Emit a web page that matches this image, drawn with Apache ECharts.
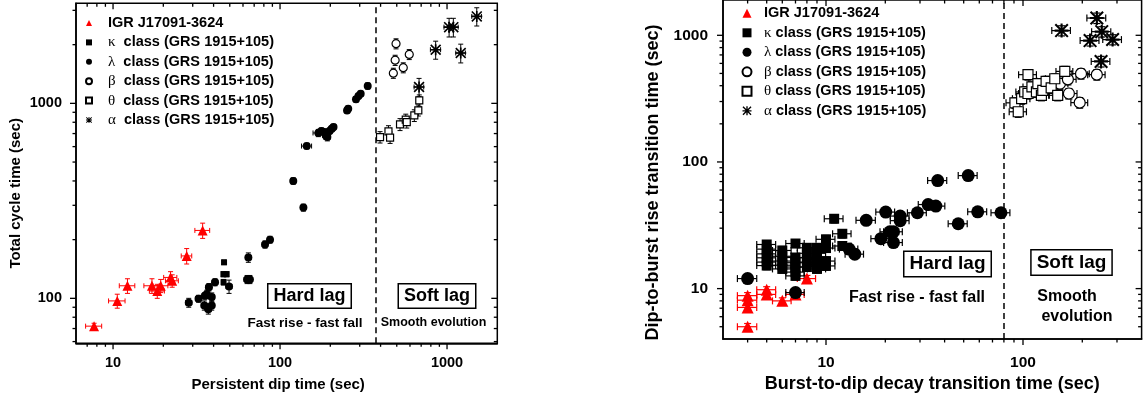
<!DOCTYPE html>
<html>
<head>
<meta charset="utf-8">
<script src="https://cdn.jsdelivr.net/npm/echarts@6/dist/echarts.min.js"></script>
<style>
  html, body { margin: 0; padding: 0; background: #fff; }
  #chart { width: 1146px; height: 402px; }
</style>
</head>
<body>
<div id="chart"></div>
<script>
var names = ['IGR J17091-3624', 'κ class (GRS 1915+105)', 'λ class (GRS 1915+105)',
             'β class (GRS 1915+105)', 'θ class (GRS 1915+105)', 'α class (GRS 1915+105)'];

// left panel: persistent dip time vs total cycle time, [x, y, xerr, yerr]
var igrL = [[7.7, 72, 0.85, 2.5], [10.6, 97, 1.2, 8], [12.2, 116, 1.3, 10], [17.1, 116, 1.8, 10],
  [18.4, 109, 1.9, 9], [19.3, 116, 2.0, 9], [22.1, 128, 2.0, 9], [22.6, 123, 2.0, 9],
  [27.6, 165, 2.0, 15], [34.4, 223, 3.5, 20]];
var kappaL = [[46.2, 153, 1.0, 4], [45.8, 133, 1.0, 4], [47.9, 133, 1.0, 4], [45.9, 121, 1.0, 4]];
var lambdaL = [[28.4, 95, 1.2, 5], [32.5, 99.6, 1.3, 4], [35.5, 103, 1.4, 4], [35.2, 92, 1.4, 5],
  [36.4, 105, 1.4, 5], [37.2, 88, 1.5, 5], [37.5, 114, 1.5, 5], [39, 101.6, 1.5, 5], [39, 92, 1.5, 5],
  [40.8, 121, 1.6, 5], [49.5, 115, 2.0, 9], [63.5, 125, 2.5, 6], [66, 125, 2.5, 6], [64.6, 162, 2.5, 9],
  [81.3, 189, 3, 8], [87.1, 200, 3, 8], [120, 400, 4, 15], [138, 292, 4, 12], [144.5, 604, 10, 20],
  [169.6, 705, 12, 30], [177, 722, 8, 25], [183, 714, 8, 25], [188, 685, 8, 30], [192, 672, 8, 30],
  [198, 722, 8, 25], [204, 741, 8, 25], [209, 756, 8, 25], [252, 920, 8, 30], [256, 938, 8, 30],
  [285, 1049, 9, 35], [295, 1090, 9, 35], [304, 1120, 9, 35], [335, 1228, 9, 45]];
var betaL = [[495, 2023, 10, 120], [489, 1665, 10, 100], [547, 1524, 10, 90], [477, 1429, 10, 85],
  [594, 1782, 10, 105]];
var thetaL = [[397, 671, 10, 45], [446, 718, 10, 50], [456, 668, 10, 45], [523, 780, 10, 55],
  [566, 825, 10, 55], [574, 802, 10, 55], [637, 867, 10, 60], [673, 921, 10, 60], [682, 1035, 10, 70]];
var alphaL = [[680, 1213, 45, 130], [855, 1884, 60, 200], [1029, 2460, 70, 270], [1091, 2460, 75, 270],
  [1208, 1812, 80, 200], [1507, 2793, 100, 300]];

// right panel: burst-to-dip decay vs dip-to-burst rise, [x, y, xerr, yerr]
var igrR = [[4.0, 8.8, 0.45, 0.5], [4.0, 8.1, 0.45, 0.45], [4.0, 7.1, 0.45, 0.4], [4.0, 5.0, 0.45, 0.3],
  [5.0, 9.8, 0.55, 0.55], [5.0, 9.0, 0.55, 0.5], [6.0, 8.0, 0.65, 0.45], [7.0, 9.0, 0.75, 0.5],
  [8.0, 12.0, 0.85, 0.7]];
var kappaR = [[5.0, 22.3, 0.55, 1.6], [5.0, 20.5, 0.55, 1.5], [5.0, 18.8, 0.55, 1.4], [5.0, 17.5, 0.55, 1.3],
  [5.0, 16.2, 0.55, 1.2], [5.0, 15.2, 0.55, 1.1],
  [6.0, 20.0, 0.65, 1.5], [6.0, 18.0, 0.65, 1.3], [6.0, 16.5, 0.65, 1.2], [6.0, 15.3, 0.65, 1.1], [6.0, 14.3, 0.65, 1.0],
  [7.0, 22.7, 0.75, 1.6], [7.0, 17.6, 0.75, 1.3], [7.0, 16.0, 0.75, 1.2], [7.0, 14.8, 0.75, 1.1],
  [7.0, 13.5, 0.75, 1.0], [7.0, 12.6, 0.75, 0.9],
  [8.0, 21.0, 0.85, 1.5], [8.0, 19.0, 0.85, 1.4], [8.0, 17.5, 0.85, 1.3], [8.0, 16.2, 0.85, 1.2], [8.0, 14.8, 0.85, 1.1],
  [9.0, 21.0, 0.95, 1.5], [9.0, 19.0, 0.95, 1.4], [9.0, 17.0, 0.95, 1.2], [9.0, 15.5, 0.95, 1.1], [9.0, 14.3, 0.95, 1.0],
  [10.0, 24.5, 1.1, 1.8], [10.0, 20.9, 1.1, 1.5], [10.0, 16.5, 1.1, 1.2], [10.0, 15.1, 1.1, 1.1],
  [11.0, 35.6, 1.2, 2.6], [12.1, 27.1, 1.3, 2.0], [12.1, 21.7, 1.3, 1.6]];
var lambdaR = [[4.0, 12.0, 0.45, 0.7], [7.0, 9.3, 0.75, 0.5], [13.1, 20.5, 1.4, 1.1], [14.0, 18.7, 1.5, 1.0],
  [16.0, 34.6, 1.8, 1.9], [19.0, 24.8, 2.1, 1.4], [20.1, 40.2, 2.2, 2.2], [21.1, 28.1, 2.3, 1.5],
  [22.0, 28.1, 2.4, 1.5], [22.0, 23.1, 2.4, 1.3], [23.8, 37.4, 2.6, 2.0], [23.8, 34.4, 2.6, 1.9],
  [29.1, 39.7, 3.2, 2.2], [33.0, 46.1, 3.6, 2.5], [36.1, 44.8, 4.0, 2.5], [36.9, 71.3, 4.1, 3.9],
  [46.9, 32.5, 5.2, 1.8], [52.7, 78, 5.8, 4.3], [58.9, 40.4, 6.5, 2.2], [77.3, 39.7, 8.5, 2.2]];
var betaR = [[154, 415, 15, 40], [169, 449, 17, 43], [171, 347, 17, 33], [194, 294, 19, 28],
  [197, 498, 20, 47], [237, 489, 24, 46]];
var thetaR = [[91, 293, 9, 28], [94.6, 249, 9.5, 24], [98.4, 316, 10, 30], [102, 357, 10, 34],
  [106, 489, 11, 46], [106, 347, 11, 33], [111, 391, 11, 37], [117, 357, 12, 34], [119, 415, 12, 39],
  [124, 336, 12, 32], [126, 368, 13, 35], [131, 433, 13, 41], [139, 384, 14, 36], [145, 454, 15, 43],
  [150, 336, 15, 32], [163, 519, 16, 49]];
var alphaR = [[157, 1089, 17, 100], [219, 908, 24, 85], [237, 1368, 26, 130], [249, 622, 27, 60],
  [251, 1069, 28, 100], [285, 925, 31, 85]];

// axis ranges and ticks
var xRangeL = [6, 2000], yRangeL = [58.8, 3260];
var xRangeR = [3, 400], yRangeR = [4, 1900];
var xMajorL = [10, 100, 1000];
var xMinorL = [7, 8, 9, 20, 30, 40, 50, 60, 70, 80, 90, 200, 300, 400, 500, 600, 700, 800, 900];
var yMajorL = [100, 1000];
var yMinorL = [60, 70, 80, 90, 200, 300, 400, 500, 600, 700, 800, 900, 2000, 3000];
var xMajorR = [10, 100];
var xMinorR = [4, 5, 6, 7, 8, 9, 20, 30, 40, 50, 60, 70, 80, 90, 200, 300];
var yMajorR = [10, 100, 1000];
var yMinorR = [5, 6, 7, 8, 9, 20, 30, 40, 50, 60, 70, 80, 90, 200, 300, 400, 500, 600, 700, 800, 900];
var splitL = 375, splitR = 80;

var FONT = '"Liberation Sans", Arial, sans-serif';
var RED = '#ff0000';
var STAR = 'path://M8.5 0h3v20h-3Z M0 8.5h20v3h-20Z M2.1 0L20 17.9L17.9 20L0 2.1Z M17.9 0L20 2.1L2.1 20L0 17.9Z';

function pow10Label(v) {
  var e = Math.log(v) / Math.LN10;
  return Math.abs(e - Math.round(e)) < 1e-6 ? String(Math.round(v)) : '';
}

function errBar(cap, lw, color) {
  return function (params, api) {
    var x = api.value(0), y = api.value(1), xe = api.value(2), ye = api.value(3);
    var l = api.coord([x - xe, y]), r = api.coord([x + xe, y]);
    var t = api.coord([x, y + ye]), b = api.coord([x, y - ye]);
    var st = { stroke: color, lineWidth: lw };
    return { type: 'group', children: [
      { type: 'line', shape: { x1: l[0], y1: l[1], x2: r[0], y2: r[1] }, style: st },
      { type: 'line', shape: { x1: l[0], y1: l[1] - cap, x2: l[0], y2: l[1] + cap }, style: st },
      { type: 'line', shape: { x1: r[0], y1: r[1] - cap, x2: r[0], y2: r[1] + cap }, style: st },
      { type: 'line', shape: { x1: t[0], y1: t[1], x2: b[0], y2: b[1] }, style: st },
      { type: 'line', shape: { x1: t[0] - cap, y1: t[1], x2: t[0] + cap, y2: t[1] }, style: st },
      { type: 'line', shape: { x1: b[0] - cap, y1: b[1], x2: b[0] + cap, y2: b[1] }, style: st }
    ] };
  };
}

var series = [];
function addSet(gi, data, name, sym, size, fill, stroke, cap, lw) {
  series.push({
    type: 'custom', xAxisIndex: gi, yAxisIndex: gi, z: 1, silent: true, clip: false,
    renderItem: errBar(cap, lw, stroke), encode: { x: 0, y: 1 }, data: data
  });
  series.push({
    type: 'scatter', name: name, xAxisIndex: gi, yAxisIndex: gi, z: 3, silent: true,
    symbol: sym, symbolSize: size, data: data,
    itemStyle: { color: fill, borderColor: stroke, borderWidth: fill === '#fff' ? 1.2 : 0, opacity: 1 }
  });
}

addSet(0, igrL, names[0], 'triangle', 10, RED, RED, 2.5, 1);
addSet(0, kappaL, names[1], 'rect', 6, '#000', '#000', 2.5, 1);
addSet(0, lambdaL, names[2], 'circle', 8, '#000', '#000', 2.5, 1);
addSet(0, betaL, names[3], 'circle', 8, '#fff', '#000', 2.5, 1);
addSet(0, thetaL, names[4], 'rect', 7, '#fff', '#000', 2.5, 1);
addSet(0, alphaL, names[5], STAR, 11, '#000', '#000', 2.5, 1);

addSet(1, igrR, names[0], 'triangle', 12, RED, RED, 3.5, 1.2);
addSet(1, kappaR, names[1], 'rect', 10, '#000', '#000', 3.5, 1.2);
addSet(1, lambdaR, names[2], 'circle', 13, '#000', '#000', 3.5, 1.2);
addSet(1, betaR, names[3], 'circle', 11, '#fff', '#000', 3.5, 1.2);
addSet(1, thetaR, names[4], 'rect', 10, '#fff', '#000', 3.5, 1.2);
addSet(1, alphaR, names[5], STAR, 14, '#000', '#000', 3.5, 1.2);

// separating dashed lines, carried by the lambda scatter series
function split(v) {
  return {
    silent: true, symbol: 'none', label: { show: false }, animation: false,
    lineStyle: { type: [6, 4], color: '#000', width: 1.5 }, data: [{ xAxis: v }]
  };
}
series[5].markLine = split(splitL);
series[17].markLine = split(splitR);

// Origin-style ticks: small rect symbols sitting on the four frame edges
function tickSeries(gi, xr, yr, xMaj, xMin, yMaj, yMin) {
  var data = [];
  function put(x, y, w, h, dx, dy) {
    data.push({ value: [x, y], symbolSize: [w, h], symbolOffset: [dx, dy] });
  }
  xMaj.concat(xMin).forEach(function (v, i) {
    var len = i < xMaj.length ? 6 : 3.5;
    put(v, yr[0], 1.3, len, 0, len / 2);
    put(v, yr[1], 1.3, len, 0, len / 2);
  });
  yMaj.concat(yMin).forEach(function (v, i) {
    var len = i < yMaj.length ? 6 : 3.5;
    put(xr[0], v, len, 1.3, -len / 2, 0);
    put(xr[1], v, len, 1.3, -len / 2, 0);
  });
  series.push({
    type: 'scatter', xAxisIndex: gi, yAxisIndex: gi, z: 5, silent: true, clip: false,
    symbol: 'rect', itemStyle: { color: '#000', opacity: 1 }, data: data
  });
}
tickSeries(0, xRangeL, yRangeL, xMajorL, xMinorL, yMajorL, yMinorL);
tickSeries(1, xRangeR, yRangeR, xMajorR, xMinorR, yMajorR, yMinorR);

function legendFmt(sep) {
  return function (name) {
    if (name.indexOf(' class') === 1) return '{g|' + name.charAt(0) + '}' + sep + name.slice(2);
    return name;
  };
}

function legend(left, top, size, gap, pad, sep) {
  return {
    orient: 'vertical', left: left, top: top, itemWidth: size, itemHeight: size, itemGap: gap,
    selectedMode: false, data: names, formatter: legendFmt(sep),
    textStyle: {
      color: '#000', fontFamily: FONT, fontWeight: 'bold', fontSize: 14.5, lineHeight: 15,
      padding: [0, 0, 0, pad],
      rich: { g: { fontFamily: '"Liberation Serif", "DejaVu Serif", serif', fontWeight: 'normal', fontSize: 15, color: '#000' } }
    }
  };
}

function axis(gi, range, name, fs, lfs, margin, gap, shift) {
  return {
    type: 'log', logBase: 10, gridIndex: gi, min: range[0], max: range[1],
    axisLine: { lineStyle: { color: '#000', width: 1.5 } },
    axisTick: { show: false }, splitLine: { show: false },
    axisLabel: { formatter: pow10Label, color: '#000', fontFamily: FONT, fontWeight: 'bold', fontSize: lfs, margin: margin },
    name: name, nameLocation: 'middle', nameGap: gap,
    nameTextStyle: { color: '#000', fontFamily: FONT, fontWeight: 'bold', fontSize: fs, padding: [0, shift, 0, 0] }
  };
}

var option = {
  animation: false,
  backgroundColor: '#fff',
  grid: [
    { left: 76, top: 3.3, width: 421.3, height: 340, show: true, borderColor: '#000', borderWidth: 1.5, backgroundColor: 'transparent' },
    { left: 723, top: -1.7, width: 418.6, height: 340.7, show: true, borderColor: '#000', borderWidth: 1.5, backgroundColor: 'transparent' }
  ],
  legend: [
    legend(80, 10.5, 6, 4.4, 11, '  '),
    legend(736.5, 0.8, 9, 4.5, 7.5, ' ')
  ],
  xAxis: [
    axis(0, xRangeL, 'Persistent dip time (sec)', 15, 14.5, 12, 34, 17),
    axis(1, xRangeR, 'Burst-to-dip decay transition time (sec)', 18, 15.5, 15.5, 34, 0)
  ],
  yAxis: [
    axis(0, yRangeL, 'Total cycle time (sec)', 15, 14.5, 14, 53, 40),
    axis(1, yRangeR, 'Dip-to-burst rise transition time (sec)', 18, 15.5, 15, 61, 26)
  ],
  series: series
};

function note(x, y, text, size, boxed) {
  var st = { text: text, fontFamily: FONT, fontWeight: 'bold', fontSize: size, fill: '#000',
             align: 'center', verticalAlign: 'middle' };
  if (boxed) {
    st.backgroundColor = '#fff'; st.borderColor = '#000'; st.borderWidth = 1.5;
    st.padding = [2, 5, 1, 5]; st.lineHeight = size + 2;
  }
  return { type: 'text', x: x, y: y, z: 100, style: st };
}

option.graphic = [
  note(309.5, 296, 'Hard lag', 18, true),
  note(437, 296, 'Soft lag', 18, true),
  note(305, 323, 'Fast rise - fast fall', 13.5, false),
  note(433.5, 323, 'Smooth evolution', 12.5, false),
  note(947.5, 264, 'Hard lag', 19, true),
  note(1071.5, 262.5, 'Soft lag', 19, true),
  note(917, 298, 'Fast rise - fast fall', 16, false),
  note(1067, 297, 'Smooth', 16, false),
  note(1077, 317, 'evolution', 16, false)
];

var chart = echarts.init(document.getElementById('chart'));
chart.setOption(option);
</script>
</body>
</html>
